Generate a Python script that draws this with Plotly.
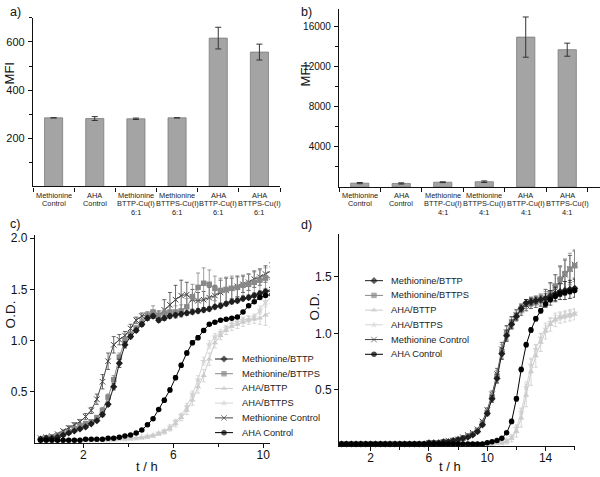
import plotly.graph_objects as go

W, H = 600, 477
FONT = "Liberation Sans, Arial, Helvetica, sans-serif"


def fx(p):
    return p / W


def fy(p):
    return 1 - p / H


# ---------------- panel a / b : MFI bars ----------------
CAT_A = ["Methionine|Control", "AHA|Control", "Methionine|BTTP-Cu(I)|6:1",
         "Methionine|BTTPS-Cu(I)|6:1", "AHA|BTTP-Cu(I)|6:1", "AHA|BTTPS-Cu(I)|6:1"]
MFI_A = [285, 282, 281, 285, 616, 558]
ERR_A = [0, 8, 3, 0, 45, 33]

CAT_B = ["Methionine|Control ", "AHA|Control ", "Methionine|BTTP-Cu(I)|4:1",
         "Methionine|BTTPS-Cu(I)|4:1", "AHA|BTTP-Cu(I)|4:1", "AHA|BTTPS-Cu(I)|4:1"]
MFI_B = [380, 350, 470, 520, 14900, 13650]
ERR_B = [60, 60, 40, 80, 2000, 650]
TICKS_B = [4000, 8000, 12000, 16000]

# ---------------- panel c : growth curves ----------------
T_C = [0.1, 0.35, 0.6, 0.85, 1.1, 1.35, 1.6, 1.85, 2.1, 2.35, 2.6, 2.85, 3.1, 3.35,
       3.6, 3.85, 4.1, 4.35, 4.6, 4.85, 5.1, 5.35, 5.6, 5.85, 6.1, 6.35, 6.6, 6.85,
       7.1, 7.35, 7.6, 7.85, 8.1, 8.35, 8.6, 8.85, 9.1, 9.35, 9.6, 9.85, 10.1, 10.35]
MB_C = [0.04, 0.05, 0.05, 0.06, 0.08, 0.10, 0.12, 0.14, 0.16, 0.19, 0.22, 0.28, 0.38, 0.55,
        0.78, 0.96, 1.04, 1.10, 1.16, 1.22, 1.24, 1.20, 1.22, 1.24, 1.25, 1.26, 1.27, 1.28,
        1.29, 1.30, 1.31, 1.33, 1.34, 1.36, 1.38, 1.39, 1.41, 1.42, 1.44, 1.46, 1.48, 1.50]
MS_C = [0.04, 0.05, 0.06, 0.07, 0.09, 0.11, 0.14, 0.17, 0.19, 0.21, 0.25, 0.32, 0.45, 0.62,
        0.84, 1.00, 1.06, 1.12, 1.17, 1.24, 1.28, 1.25, 1.27, 1.28, 1.28, 1.29, 1.33, 1.43,
        1.52, 1.56, 1.55, 1.51, 1.49, 1.50, 1.51, 1.52, 1.54, 1.55, 1.57, 1.59, 1.61, 1.62]
AB_C = [0.03, 0.03, 0.03, 0.03, 0.03, 0.03, 0.03, 0.03, 0.03, 0.03, 0.03, 0.03, 0.03, 0.03,
        0.04, 0.04, 0.04, 0.05, 0.05, 0.06, 0.07, 0.09, 0.11, 0.14, 0.19, 0.25, 0.32, 0.42,
        0.55, 0.66, 0.82, 0.98, 1.05, 1.10, 1.14, 1.16, 1.18, 1.20, 1.21, 1.22, 1.25, 1.28]
AS_C = [0.03, 0.03, 0.03, 0.03, 0.03, 0.03, 0.03, 0.03, 0.03, 0.03, 0.03, 0.03, 0.03, 0.04,
        0.04, 0.04, 0.05, 0.05, 0.06, 0.07, 0.08, 0.10, 0.12, 0.16, 0.21, 0.27, 0.36, 0.48,
        0.62, 0.80, 0.96, 1.04, 1.08, 1.12, 1.16, 1.18, 1.20, 1.21, 1.23, 1.30, 1.38, 1.42]
MC_C = [0.05, 0.06, 0.07, 0.09, 0.12, 0.15, 0.18, 0.21, 0.26, 0.32, 0.43, 0.60, 0.80, 0.96,
        1.01, 1.05, 1.12, 1.20, 1.24, 1.25, 1.26, 1.24, 1.30, 1.35, 1.40, 1.44, 1.45, 1.40,
        1.39, 1.40, 1.42, 1.44, 1.47, 1.49, 1.51, 1.53, 1.55, 1.57, 1.60, 1.62, 1.65, 1.68]
AC_C = [0.03, 0.03, 0.03, 0.03, 0.03, 0.03, 0.03, 0.03, 0.04, 0.04, 0.04, 0.04, 0.05, 0.05,
        0.06, 0.07, 0.08, 0.10, 0.13, 0.18, 0.24, 0.33, 0.42, 0.52, 0.64, 0.76, 0.88, 0.98,
        1.03, 1.10, 1.16, 1.18, 1.20, 1.21, 1.22, 1.23, 1.28, 1.34, 1.38, 1.42, 1.44, 1.45]

E_MB_C = [0.01, 0.01, 0.01, 0.01, 0.01, 0.01, 0.01, 0.01, 0.01, 0.01, 0.01, 0.02, 0.02, 0.03,
          0.04, 0.03, 0.02, 0.02, 0.02, 0.02, 0.02, 0.02, 0.02, 0.02, 0.02, 0.02, 0.02, 0.02,
          0.02, 0.02, 0.02, 0.02, 0.02, 0.02, 0.02, 0.02, 0.02, 0.02, 0.02, 0.02, 0.02, 0.02]
E_MS_C = [0.01, 0.01, 0.01, 0.01, 0.01, 0.01, 0.02, 0.02, 0.02, 0.02, 0.02, 0.03, 0.03, 0.04,
          0.04, 0.03, 0.03, 0.03, 0.03, 0.04, 0.06, 0.04, 0.04, 0.05, 0.06, 0.06, 0.08, 0.12,
          0.14, 0.15, 0.14, 0.12, 0.12, 0.12, 0.12, 0.10, 0.10, 0.10, 0.10, 0.10, 0.10, 0.10]
E_AB_C = [0.00, 0.00, 0.00, 0.00, 0.00, 0.00, 0.00, 0.00, 0.00, 0.00, 0.00, 0.00, 0.00, 0.00,
          0.00, 0.00, 0.00, 0.00, 0.00, 0.01, 0.01, 0.01, 0.02, 0.02, 0.03, 0.03, 0.04, 0.05,
          0.06, 0.06, 0.06, 0.05, 0.04, 0.04, 0.04, 0.04, 0.04, 0.04, 0.04, 0.06, 0.10, 0.15]
E_AS_C = [0.00, 0.00, 0.00, 0.00, 0.00, 0.00, 0.00, 0.00, 0.00, 0.00, 0.00, 0.00, 0.00, 0.00,
          0.00, 0.00, 0.00, 0.00, 0.00, 0.01, 0.01, 0.01, 0.01, 0.02, 0.02, 0.02, 0.03, 0.03,
          0.04, 0.04, 0.04, 0.03, 0.03, 0.03, 0.03, 0.03, 0.03, 0.03, 0.03, 0.04, 0.05, 0.06]
E_MC_C = [0.01, 0.01, 0.01, 0.01, 0.01, 0.02, 0.02, 0.02, 0.03, 0.03, 0.05, 0.07, 0.08, 0.08,
          0.05, 0.04, 0.04, 0.03, 0.03, 0.03, 0.03, 0.05, 0.10, 0.12, 0.14, 0.15, 0.12, 0.10,
          0.08, 0.08, 0.10, 0.10, 0.12, 0.12, 0.10, 0.10, 0.08, 0.08, 0.08, 0.08, 0.08, 0.08]
E_AC_C = [0.01, 0.01, 0.01, 0.01, 0.01, 0.01, 0.01, 0.01, 0.01, 0.01, 0.01, 0.01, 0.01, 0.01,
          0.01, 0.01, 0.01, 0.01, 0.01, 0.01, 0.01, 0.01, 0.02, 0.02, 0.02, 0.02, 0.02, 0.02,
          0.02, 0.02, 0.01, 0.01, 0.01, 0.01, 0.01, 0.01, 0.01, 0.01, 0.01, 0.01, 0.01, 0.01]

# ---------------- panel d : growth curves ----------------
T_D = [0, 0.33, 0.67, 1, 1.33, 1.67, 2, 2.33, 2.67, 3, 3.33, 3.67, 4, 4.33, 4.67, 5, 5.33,
       5.67, 6, 6.33, 6.67, 7, 7.33, 7.67, 8, 8.33, 8.67, 9, 9.33, 9.67, 10, 10.33, 10.67,
       11, 11.33, 11.67, 12, 12.33, 12.67, 13, 13.33, 13.67, 14, 14.33, 14.67, 15, 15.33,
       15.67, 16]
MB_D = [0.02, 0.02, 0.02, 0.02, 0.02, 0.02, 0.02, 0.02, 0.02, 0.02, 0.02, 0.02, 0.02, 0.02,
        0.02, 0.02, 0.02, 0.02, 0.03, 0.03, 0.03, 0.04, 0.04, 0.05, 0.06, 0.07, 0.08, 0.10,
        0.13, 0.19, 0.29, 0.42, 0.60, 0.82, 0.98, 1.08, 1.15, 1.22, 1.27, 1.28, 1.29, 1.30,
        1.31, 1.33, 1.35, 1.37, 1.38, 1.39, 1.40]
MS_D = [0.02, 0.02, 0.02, 0.02, 0.02, 0.02, 0.02, 0.02, 0.02, 0.02, 0.02, 0.02, 0.02, 0.02,
        0.02, 0.02, 0.02, 0.02, 0.03, 0.03, 0.03, 0.04, 0.04, 0.05, 0.06, 0.07, 0.09, 0.11,
        0.14, 0.20, 0.30, 0.44, 0.62, 0.84, 1.00, 1.09, 1.16, 1.22, 1.26, 1.28, 1.29, 1.30,
        1.31, 1.36, 1.42, 1.48, 1.53, 1.57, 1.60]
AB_D = [0.02, 0.02, 0.02, 0.02, 0.02, 0.02, 0.02, 0.02, 0.02, 0.02, 0.02, 0.02, 0.02, 0.02,
        0.02, 0.02, 0.02, 0.02, 0.02, 0.02, 0.02, 0.02, 0.02, 0.02, 0.02, 0.02, 0.02, 0.02,
        0.02, 0.02, 0.02, 0.02, 0.03, 0.03, 0.04, 0.07, 0.13, 0.25, 0.45, 0.66, 0.80, 0.92,
        1.02, 1.08, 1.12, 1.14, 1.15, 1.16, 1.17]
AS_D = [0.02, 0.02, 0.02, 0.02, 0.02, 0.02, 0.02, 0.02, 0.02, 0.02, 0.02, 0.02, 0.02, 0.02,
        0.02, 0.02, 0.02, 0.02, 0.02, 0.02, 0.02, 0.02, 0.02, 0.02, 0.02, 0.02, 0.02, 0.02,
        0.02, 0.02, 0.02, 0.02, 0.03, 0.03, 0.05, 0.08, 0.16, 0.30, 0.52, 0.72, 0.86, 0.96,
        1.04, 1.10, 1.13, 1.15, 1.16, 1.17, 1.18]
MC_D = [0.02, 0.02, 0.02, 0.02, 0.02, 0.02, 0.02, 0.02, 0.02, 0.02, 0.02, 0.02, 0.02, 0.02,
        0.02, 0.02, 0.02, 0.02, 0.03, 0.03, 0.03, 0.04, 0.05, 0.05, 0.06, 0.08, 0.10, 0.12,
        0.15, 0.22, 0.32, 0.46, 0.64, 0.86, 1.01, 1.10, 1.16, 1.21, 1.25, 1.27, 1.28, 1.29,
        1.31, 1.35, 1.40, 1.46, 1.52, 1.57, 1.61]
AC_D = [0.02, 0.02, 0.02, 0.02, 0.02, 0.02, 0.02, 0.02, 0.02, 0.02, 0.02, 0.02, 0.02, 0.02,
        0.02, 0.02, 0.02, 0.02, 0.02, 0.02, 0.02, 0.02, 0.02, 0.02, 0.02, 0.02, 0.02, 0.02,
        0.02, 0.02, 0.03, 0.04, 0.05, 0.07, 0.12, 0.22, 0.42, 0.68, 0.90, 1.03, 1.13, 1.20,
        1.26, 1.30, 1.33, 1.35, 1.36, 1.37, 1.38]

E_MB_D = [0.01, 0.01, 0.01, 0.01, 0.01, 0.01, 0.01, 0.01, 0.01, 0.01, 0.01, 0.01, 0.01, 0.01,
          0.01, 0.01, 0.01, 0.01, 0.01, 0.01, 0.01, 0.01, 0.01, 0.01, 0.01, 0.01, 0.01, 0.01,
          0.01, 0.01, 0.02, 0.03, 0.04, 0.05, 0.05, 0.04, 0.03, 0.03, 0.03, 0.03, 0.03, 0.03,
          0.04, 0.05, 0.06, 0.07, 0.08, 0.08, 0.08]
E_MS_D = [0.01, 0.01, 0.01, 0.01, 0.01, 0.01, 0.01, 0.01, 0.01, 0.01, 0.01, 0.01, 0.01, 0.01,
          0.01, 0.01, 0.01, 0.01, 0.01, 0.01, 0.01, 0.01, 0.01, 0.01, 0.01, 0.01, 0.01, 0.01,
          0.01, 0.01, 0.02, 0.03, 0.05, 0.06, 0.06, 0.05, 0.04, 0.04, 0.04, 0.04, 0.04, 0.05,
          0.06, 0.08, 0.10, 0.12, 0.13, 0.14, 0.14]
E_AB_D = [0.01, 0.01, 0.01, 0.01, 0.01, 0.01, 0.01, 0.01, 0.01, 0.01, 0.01, 0.01, 0.01, 0.01,
          0.01, 0.01, 0.01, 0.01, 0.01, 0.01, 0.01, 0.01, 0.01, 0.01, 0.01, 0.01, 0.01, 0.01,
          0.01, 0.01, 0.01, 0.01, 0.01, 0.01, 0.02, 0.03, 0.05, 0.08, 0.10, 0.12, 0.10, 0.08,
          0.07, 0.06, 0.06, 0.05, 0.05, 0.05, 0.05]
E_AS_D = [0.01, 0.01, 0.01, 0.01, 0.01, 0.01, 0.01, 0.01, 0.01, 0.01, 0.01, 0.01, 0.01, 0.01,
          0.01, 0.01, 0.01, 0.01, 0.01, 0.01, 0.01, 0.01, 0.01, 0.01, 0.01, 0.01, 0.01, 0.01,
          0.01, 0.01, 0.01, 0.01, 0.01, 0.01, 0.02, 0.02, 0.03, 0.04, 0.05, 0.05, 0.04, 0.04,
          0.03, 0.03, 0.03, 0.03, 0.03, 0.03, 0.03]
E_MC_D = [0.01, 0.01, 0.01, 0.01, 0.01, 0.01, 0.01, 0.01, 0.01, 0.01, 0.01, 0.01, 0.01, 0.01,
          0.01, 0.01, 0.01, 0.01, 0.01, 0.01, 0.01, 0.01, 0.01, 0.01, 0.01, 0.01, 0.01, 0.01,
          0.01, 0.01, 0.02, 0.03, 0.05, 0.06, 0.06, 0.05, 0.05, 0.05, 0.05, 0.05, 0.05, 0.05,
          0.08, 0.10, 0.12, 0.13, 0.13, 0.12, 0.12]
E_AC_D = [0.01, 0.01, 0.01, 0.01, 0.01, 0.01, 0.01, 0.01, 0.01, 0.01, 0.01, 0.01, 0.01, 0.01,
          0.01, 0.01, 0.01, 0.01, 0.01, 0.01, 0.01, 0.01, 0.01, 0.01, 0.01, 0.01, 0.01, 0.01,
          0.01, 0.01, 0.01, 0.01, 0.01, 0.01, 0.01, 0.02, 0.02, 0.02, 0.02, 0.02, 0.02, 0.02,
          0.02, 0.02, 0.02, 0.02, 0.02, 0.02, 0.02]

NAMES = ["Methionine/BTTP", "Methionine/BTTPS", "AHA/BTTP", "AHA/BTTPS",
         "Methionine Control", "AHA Control"]
COLORS = ["#1e1e1e", "#888888", "#cbcbcb", "#d5d5d5", "#444444", "#000000"]
SYMBOLS = ["diamond", "square", "triangle-up", "star", "x-thin", "circle"]
DRAW_ORDER = [3, 2, 4, 1, 0, 5]

SER_C = [MB_C, MS_C, AB_C, AS_C, MC_C, AC_C]
ERR_C = [E_MB_C, E_MS_C, E_AB_C, E_AS_C, E_MC_C, E_AC_C]
SER_D = [MB_D, MS_D, AB_D, AS_D, MC_D, AC_D]
ERR_D = [E_MB_D, E_MS_D, E_AB_D, E_AS_D, E_MC_D, E_AC_D]

fig = go.Figure()

# bars
BAR_FILL = "#a4a4a4"
for cats, vals, errs, xa, ya in [(CAT_A, MFI_A, ERR_A, "x", "y"),
                                  (CAT_B, MFI_B, ERR_B, "x2", "y2")]:
    fig.add_trace(go.Bar(
        x=cats, y=vals, width=0.44, xaxis=xa, yaxis=ya, showlegend=False,
        marker=dict(color=BAR_FILL, line=dict(color="#7c7c7c", width=0.8)),
        error_y=dict(type="data", array=errs, color="#333333", thickness=1, width=3),
    ))


def marker_for(i, size=5.5):
    m = dict(symbol=SYMBOLS[i], size=size, color=COLORS[i], line=dict(width=0))
    if SYMBOLS[i] == "x-thin":
        m = dict(symbol="x-thin", size=size, color=COLORS[i], line=dict(width=1, color=COLORS[i]))
    return m


for T, SER, ERR, xa, ya in [(T_C, SER_C, ERR_C, "x3", "y3"), (T_D, SER_D, ERR_D, "x4", "y4")]:
    for i in DRAW_ORDER:
        fig.add_trace(go.Scatter(
            x=T, y=SER[i], mode="lines+markers", name=NAMES[i], xaxis=xa, yaxis=ya,
            showlegend=False, cliponaxis=False,
            line=dict(color=COLORS[i], width=1),
            marker=marker_for(i),
            error_y=dict(type="data", array=ERR[i], color=COLORS[i], thickness=0.8, width=2),
        ))

# manual legends (pixel coordinates on an overlay axis)
LEG = [dict(x0=215, x1=233, tx=240, y0=358, dy=14.85),
       dict(x0=365, x1=383, tx=389, y0=279, dy=14.85)]
annotations = []
for lg in LEG:
    for k, i in enumerate(range(6)):
        yy = lg["y0"] + k * lg["dy"]
        m = marker_for(i)
        m["size"] = [0, 5.5, 0]
        fig.add_trace(go.Scatter(
            x=[lg["x0"], (lg["x0"] + lg["x1"]) / 2, lg["x1"]], y=[yy, yy, yy],
            mode="lines+markers", xaxis="x5", yaxis="y5", showlegend=False,
            line=dict(color=COLORS[i], width=1), marker=m, hoverinfo="skip",
        ))
        annotations.append(dict(
            x=fx(lg["tx"]), y=fy(yy), xref="paper", yref="paper", text=NAMES[i],
            showarrow=False, xanchor="left", yanchor="middle",
            font=dict(size=9.3, color="#222222", family=FONT)))

# category labels under the bars
for cats, xa in [(CAT_A, "x"), (CAT_B, "x2")]:
    for c in cats:
        for k, line in enumerate(c.split("|")):
            annotations.append(dict(
                x=c, y=fy(193 + 8.4 * k), xref=xa, yref="paper", text=line.strip(),
                showarrow=False, xanchor="center", yanchor="middle",
                font=dict(size=7.4, color="#222222", family=FONT)))

# panel letters and axis titles
for txt, x, y in [("a)", 15, 8), ("b)", 306, 8), ("c)", 15, 222), ("d)", 306, 223)]:
    annotations.append(dict(x=fx(x), y=fy(y), xref="paper", yref="paper", text=txt,
                            showarrow=False, xanchor="center", yanchor="middle",
                            font=dict(size=12.5, color="#111111", family=FONT)))
for txt, x, y, ang, sz in [("MFI", 9, 70, -90, 13), ("MFI", 305, 72, -90, 13),
                           ("O.D.", 10, 313, -90, 13.5), ("O.D.", 314, 305, -90, 13.5),
                           ("t / h", 147, 466, 0, 13), ("t / h", 450, 466, 0, 13)]:
    annotations.append(dict(x=fx(x), y=fy(y), xref="paper", yref="paper", text=txt,
                            showarrow=False, xanchor="center", yanchor="middle",
                            textangle=ang,
                            font=dict(size=sz, color="#111111", family=FONT)))

AX = dict(showline=True, linecolor="#111111", linewidth=1.2, ticks="outside",
          tickcolor="#111111", tickwidth=1, ticklen=4, showgrid=False, zeroline=False,
          fixedrange=True, tickfont=dict(family=FONT, size=11, color="#111111"))

fig.update_layout(
    width=W, height=H, margin=dict(l=0, r=0, t=0, b=0),
    paper_bgcolor="white", plot_bgcolor="rgba(0,0,0,0)", showlegend=False,
    font=dict(family=FONT, color="#111111"),
    annotations=annotations,
    xaxis=dict(AX, domain=[fx(33), fx(280)], anchor="y", type="category",
               range=[-0.5, 5.5], tickson="boundaries", showticklabels=False),
    yaxis=dict(AX, domain=[fy(184), fy(14)], anchor="x", range=[0, 700],
               tickvals=[200, 400, 600], ticklabelstandoff=1,
               minor=dict(tickvals=[100, 300, 500, 700], ticklen=3, tickcolor="#111111")),
    xaxis2=dict(AX, domain=[fx(339), 1.0], anchor="y2", type="category",
                range=[-0.5, 5.79], tickson="boundaries", showticklabels=False),
    yaxis2=dict(AX, domain=[fy(184.5), fy(5)], anchor="x2", range=[0, 17700],
                tickvals=TICKS_B, ticktext=[str(v) for v in TICKS_B], ticklabelstandoff=1,
                tickfont=dict(family=FONT, size=10, color="#111111"),
                minor=dict(tickvals=[2000, 6000, 10000, 14000], ticklen=3, tickcolor="#111111")),
    xaxis3=dict(AX, domain=[fx(35), fx(270)], anchor="y3", range=[-0.15, 10.3],
                tickvals=[2, 6, 10], ticklabelstandoff=-4,
                tickfont=dict(family=FONT, size=12, color="#111111"),
                minor=dict(tickvals=[4, 8], ticklen=3, tickcolor="#111111")),
    yaxis3=dict(AX, domain=[fy(443), fy(233)], anchor="x3", range=[0, 2.03],
                tickvals=[0.5, 1.0, 1.5, 2.0], ticktext=["0.5", "1.0", "1.5", "2.0"],
                tickfont=dict(family=FONT, size=12, color="#111111")),
    xaxis4=dict(AX, domain=[fx(339.3), fx(575)], anchor="y4", range=[-0.15, 16.02],
                tickvals=[2, 6, 10, 14], ticklabelstandoff=-4,
                tickfont=dict(family=FONT, size=12, color="#111111"),
                minor=dict(tickvals=[4, 8, 12, 16], ticklen=3, tickcolor="#111111")),
    yaxis4=dict(AX, domain=[fy(446), fy(232)], anchor="x4", range=[0, 1.88],
                tickvals=[0.5, 1.0, 1.5], ticktext=["0.5", "1.0", "1.5"], ticklabelstandoff=0,
                tickfont=dict(family=FONT, size=12, color="#111111")),
    xaxis5=dict(domain=[0, 1], anchor="y5", range=[0, W], visible=False, fixedrange=True),
    yaxis5=dict(domain=[0, 1], anchor="x5", range=[H, 0], visible=False, fixedrange=True),
)

fig.write_html(
    "out.html",
    config={"displayModeBar": False},
    post_script="document.body.style.margin='0';document.body.style.overflow='hidden';",
)
